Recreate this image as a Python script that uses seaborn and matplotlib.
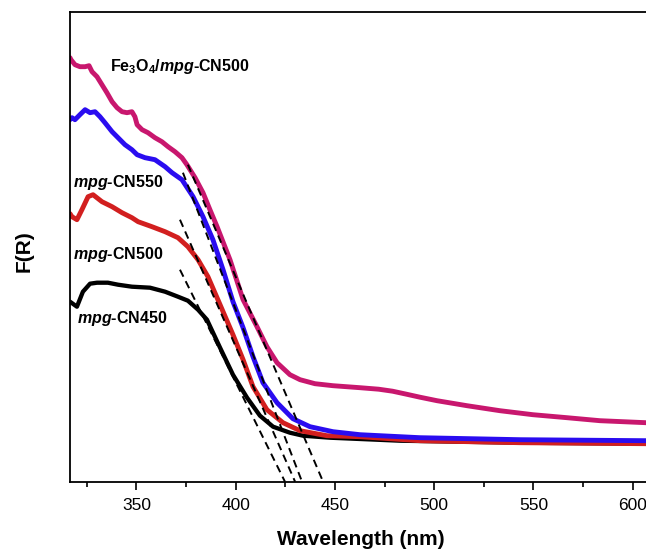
import matplotlib
matplotlib.use("Agg")
import matplotlib.pyplot as plt
import seaborn as sns
import pandas as pd
from matplotlib.ticker import MultipleLocator

# ---------------- data ----------------
fe_wl = [316.5, 317.0, 319.0, 321.5, 324.1, 326.1, 327.6, 330.1, 332.6, 335.1, 337.7, 340.2,
         342.7, 345.2, 347.7, 349.2, 350.3, 352.8, 355.8, 359.3, 362.8, 365.9, 369.4, 372.9,
         375.4, 379.5, 383.5, 387.0, 390.6, 397.1, 403.7, 410.7, 415.7, 420.8, 427.3, 432.4,
         439.9, 449.0, 462.6, 472.0, 479.0, 486.0, 492.8, 501.4, 516.5, 533.1, 549.7, 566.9,
         583.5, 606.7, 615.0]
fe_val = [4.24, 4.22, 4.17, 4.15, 4.15, 4.16, 4.10, 4.05, 3.97, 3.89, 3.80, 3.74,
          3.70, 3.69, 3.70, 3.65, 3.57, 3.52, 3.49, 3.44, 3.40, 3.35, 3.30, 3.24,
          3.17, 3.04, 2.89, 2.72, 2.55, 2.22, 1.82, 1.55, 1.35, 1.19, 1.07, 1.02,
          0.98, 0.96, 0.94, 0.925, 0.905, 0.875, 0.845, 0.81, 0.76, 0.71, 0.67, 0.64,
          0.61, 0.59, 0.58]

cn550_wl = [316.5, 317.5, 319.0, 321.5, 324.1, 326.6, 329.1, 331.6, 334.1, 337.7, 340.7, 344.2,
            347.7, 350.3, 354.3, 359.3, 364.4, 367.9, 372.9, 378.5, 383.5, 388.5, 393.6, 398.6,
            403.7, 408.7, 413.7, 420.8, 428.8, 437.4, 449.0, 462.6, 492.8, 543.2, 606.7, 615.0]
cn550_val = [3.62, 3.64, 3.62, 3.67, 3.72, 3.69, 3.70, 3.65, 3.59, 3.50, 3.44, 3.37,
             3.32, 3.27, 3.24, 3.22, 3.15, 3.09, 3.02, 2.85, 2.65, 2.42, 2.12, 1.80,
             1.54, 1.25, 0.99, 0.79, 0.63, 0.55, 0.50, 0.47, 0.44, 0.42, 0.41, 0.41]

cn500_wl = [316.5, 317.5, 320.0, 322.5, 325.6, 328.1, 332.6, 337.7, 342.7, 347.7, 350.8, 357.8,
            364.4, 370.9, 375.9, 381.0, 386.0, 392.1, 398.6, 403.7, 408.7, 415.7, 423.8, 432.4,
            445.9, 462.6, 492.8, 543.2, 606.7, 615.0]
cn500_val = [2.68, 2.65, 2.62, 2.72, 2.85, 2.87, 2.80, 2.75, 2.69, 2.64, 2.60, 2.55,
             2.50, 2.44, 2.35, 2.22, 2.05, 1.77, 1.47, 1.22, 0.95, 0.72, 0.59, 0.51,
             0.46, 0.45, 0.41, 0.39, 0.38, 0.38]

cn450_wl = [316.5, 320.0, 323.0, 326.6, 330.1, 335.6, 340.7, 347.7, 356.8, 364.4, 370.9, 375.9,
            381.0, 385.5, 392.1, 398.6, 405.7, 412.2, 418.8, 427.3, 433.9, 447.5, 482.7, 543.2,
            606.7, 615.0]
cn450_val = [1.80, 1.75, 1.90, 1.98, 1.99, 1.99, 1.97, 1.95, 1.94, 1.90, 1.85, 1.81,
             1.72, 1.62, 1.34, 1.07, 0.84, 0.66, 0.55, 0.49, 0.46, 0.44, 0.41, 0.39,
             0.38, 0.38]

# tangent (band-edge extrapolation) lines: start and end points
tan_names = ["Fe3O4/mpg-CN500", "mpg-CN550", "mpg-CN500", "mpg-CN450"]
tan_x0 = [375.9, 373.4, 371.9, 371.9]
tan_y0 = [3.17, 3.09, 2.62, 2.12]
tan_x1 = [444.0, 433.4, 429.9, 424.8]
tan_y1 = [0.0, 0.0, 0.0, 0.0]

xticks = [350, 400, 450, 500, 550, 600]

# ---------------- figure ----------------
sns.set_style("ticks")
plt.rcParams["font.family"] = ["Liberation Sans", "DejaVu Sans"]
plt.rcParams["mathtext.fontset"] = "custom"
plt.rcParams["mathtext.rm"] = "Liberation Sans:bold"
plt.rcParams["mathtext.it"] = "Liberation Sans:italic:bold"
plt.rcParams["mathtext.bf"] = "Liberation Sans:bold"
plt.rcParams["text.color"] = "black"
plt.rcParams["axes.labelcolor"] = "black"
plt.rcParams["xtick.color"] = "black"
plt.rcParams["ytick.color"] = "black"

fig = plt.figure(figsize=(6.46, 5.51), dpi=100)
ax = fig.add_axes([70 / 646, 69.3 / 551, 592.5 / 646, 469.7 / 551])

series = [
    ("mpg-CN450", cn450_wl, cn450_val, "#000000", 3.1),
    ("mpg-CN500", cn500_wl, cn500_val, "#D21F1F", 3.5),
    ("mpg-CN550", cn550_wl, cn550_val, "#2A0CF0", 3.5),
    ("Fe3O4/mpg-CN500", fe_wl, fe_val, "#C8176E", 3.5),
]
for name, xs, ys, col, lw in series:
    df = pd.DataFrame({"Wavelength": xs, "F": ys})
    sns.lineplot(data=df, x="Wavelength", y="F", color=col, linewidth=lw,
                 estimator=None, sort=False, ax=ax)

for i in range(len(tan_names)):
    dft = pd.DataFrame({"Wavelength": [tan_x0[i], tan_x1[i]], "F": [tan_y0[i], tan_y1[i]]})
    sns.lineplot(data=dft, x="Wavelength", y="F", color="black", linewidth=1.4,
                 linestyle=(0, (4, 2.6)), estimator=None, sort=False, ax=ax)

ax.set_xlim(316.5, 615)
ax.set_ylim(0, 4.697)
ax.set_xticks(xticks)
ax.set_xticklabels([str(t) for t in xticks])
ax.xaxis.set_minor_locator(MultipleLocator(25))
ax.set_yticks([])
ax.tick_params(axis="x", which="major", direction="out", length=6, width=1.2,
               labelsize=12.5, pad=6, colors="black")
ax.tick_params(axis="x", which="minor", direction="out", length=3.5, width=1.2,
               colors="black")
for s in ["left", "bottom", "top", "right"]:
    ax.spines[s].set_visible(True)
    ax.spines[s].set_linewidth(1.3)
    ax.spines[s].set_color("black")

ax.set_xlabel("Wavelength (nm)", fontsize=15, fontweight="bold", color="black")
ax.xaxis.set_label_coords(0.491, -0.124)
ax.xaxis.label.set_va("center")
ax.set_ylabel("F(R)", fontsize=15, fontweight="bold", color="black")
ax.yaxis.set_label_coords(-0.0776, 0.491)
ax.yaxis.label.set_va("center")

# curve labels
def px(x, y):
    return ((x - 70) / 592.5, (481.7 - y) / 469.7)

lab_kw = dict(transform=ax.transAxes, fontsize=11.5, fontweight="bold", va="center",
              ha="left", color="black")
ax.text(*px(110, 67), r"Fe$_3$O$_4$/$\mathit{mpg}$-CN500", **lab_kw)
ax.text(*px(73, 182), r"$\mathit{mpg}$-CN550", **lab_kw)
ax.text(*px(73, 255), r"$\mathit{mpg}$-CN500", **lab_kw)
ax.text(*px(77, 319), r"$\mathit{mpg}$-CN450", **lab_kw)

fig.savefig("out.png", dpi=100)
